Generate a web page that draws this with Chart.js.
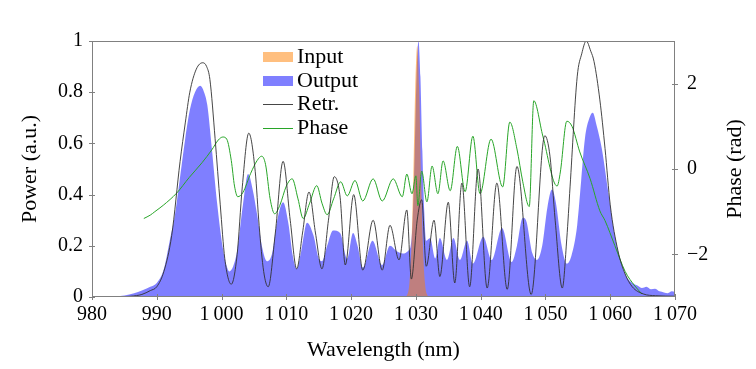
<!DOCTYPE html>
<html>
<head>
<meta charset="utf-8">
<title>Spectrum retrieval</title>
<script src="https://cdn.jsdelivr.net/npm/chart.js@4.4.1/dist/chart.umd.min.js"></script>
<style>
  html, body { margin: 0; padding: 0; background: #fff; }
  #wrap { width: 756px; height: 369px; }
</style>
</head>
<body>
<div id="wrap"><canvas id="spectrum"></canvas></div>
<script>
// [wavelength nm, value] pairs
const input = [
  [1028.2, 0], [1028.7, 0.011], [1029.0, 0.055], [1029.3, 0.19], [1029.6, 0.47], [1029.9, 0.82],
  [1030.2, 0.98], [1030.5, 0.82], [1030.8, 0.47], [1031.1, 0.19], [1031.4, 0.055], [1031.7, 0.011], [1032.2, 0]
];

const output = [
  [980, 0], [983, 0.002], [985, 0.006], [986.5, 0.015], [987.7, 0.025], [989, 0.04], [990, 0.055],
  [991.1, 0.11], [992, 0.22], [992.8, 0.32], [993.6, 0.47], [994.4, 0.62], [995.1, 0.73], [995.9, 0.8],
  [996.7, 0.825], [997.3, 0.8], [997.8, 0.75], [998.5, 0.58], [999.3, 0.37], [1000.2, 0.19], [1000.8, 0.12],
  [1001.2, 0.1], [1001.8, 0.12], [1002.4, 0.18], [1003.3, 0.36], [1004.1, 0.48], [1004.8, 0.42], [1005.5, 0.32],
  [1006.3, 0.19], [1007, 0.14], [1007.8, 0.17], [1008.6, 0.3], [1009.5, 0.37], [1010.3, 0.29], [1011, 0.16],
  [1011.6, 0.11], [1012.3, 0.18], [1013.2, 0.29], [1014.2, 0.24], [1015, 0.15], [1015.5, 0.14], [1016.3, 0.2],
  [1017.2, 0.26], [1018.3, 0.25], [1019.4, 0.15], [1020.3, 0.25], [1021, 0.2], [1021.8, 0.115], [1023.3, 0.22],
  [1024.8, 0.125], [1026, 0.2], [1027, 0.18], [1028, 0.17], [1028.8, 0.18], [1029.2, 0.2], [1029.5, 0.3],
  [1029.8, 0.55], [1030.1, 0.86], [1030.4, 1.0], [1030.7, 0.86], [1031, 0.57], [1031.3, 0.33], [1031.6, 0.22],
  [1032.2, 0.23], [1033, 0.15], [1033.7, 0.23], [1034.8, 0.145], [1035.8, 0.23], [1036.8, 0.145], [1037.9, 0.22],
  [1038.8, 0.13], [1040.4, 0.235], [1041.7, 0.145], [1043.3, 0.27], [1044.8, 0.137], [1045.6, 0.2], [1046.5, 0.31],
  [1047, 0.3], [1048, 0.17], [1048.7, 0.145], [1049.5, 0.2], [1050.3, 0.35], [1051, 0.42], [1051.6, 0.37],
  [1052.5, 0.2], [1053.3, 0.13], [1054, 0.16], [1054.9, 0.28], [1055.5, 0.45], [1056.1, 0.62], [1056.8, 0.7],
  [1057.3, 0.72], [1057.9, 0.67], [1058.7, 0.58], [1059.7, 0.41], [1060.7, 0.24], [1061.8, 0.125], [1062.5, 0.08],
  [1063.4, 0.055], [1064.2, 0.045], [1064.9, 0.035], [1065.6, 0.04], [1066.3, 0.03], [1066.9, 0.032], [1067.6, 0.022],
  [1068.3, 0.018], [1068.9, 0.015], [1069.5, 0.022], [1070, 0.02]
];

const retrieved = [
  [984, 0], [986, 0.003], [987.7, 0.01], [989, 0.025], [990, 0.04], [991.1, 0.1], [992.3, 0.24], [993.6, 0.53],
  [994.4, 0.68], [995.1, 0.8], [996.1, 0.89], [997.1, 0.915], [997.7, 0.9], [998.2, 0.85], [999, 0.62], [999.8, 0.36],
  [1000.5, 0.15], [1001.5, 0.05], [1002.4, 0.165], [1003.2, 0.43], [1004.2, 0.64], [1005.2, 0.49], [1005.8, 0.28],
  [1006.5, 0.1], [1007.2, 0.04], [1008.3, 0.25], [1009.5, 0.53], [1010.6, 0.3], [1011.6, 0.11], [1012.5, 0.25],
  [1013.5, 0.41], [1014.5, 0.25], [1015.5, 0.11], [1016.5, 0.3], [1017.4, 0.47], [1018.3, 0.39], [1019.1, 0.125],
  [1020.4, 0.4], [1021.8, 0.105], [1023.4, 0.3], [1024.8, 0.105], [1026, 0.28], [1027.4, 0.145], [1028.6, 0.34],
  [1029.3, 0.07], [1030.2, 0.3], [1030.9, 0.38], [1031.6, 0.12], [1032.8, 0.3], [1033.7, 0.08], [1035, 0.37],
  [1036, 0.055], [1037.1, 0.445], [1038.3, 0.04], [1039.6, 0.5], [1041, 0.035], [1042.5, 0.445], [1044.1, 0.03],
  [1045.6, 0.51], [1047.8, 0.01], [1049.9, 0.63], [1050.7, 0.55], [1051.5, 0.3], [1052.6, 0.035], [1053.3, 0.23],
  [1053.8, 0.43], [1054.9, 0.86], [1055.6, 0.95], [1056.3, 1.0], [1057, 0.96], [1057.5, 0.92], [1058.4, 0.77],
  [1059.2, 0.58], [1060, 0.36], [1061.2, 0.18], [1062.3, 0.09], [1063.4, 0.04], [1065.1, 0.012], [1067, 0.005], [1070, 0.003]
];

const phase = [
  [988, -1.16], [989, -1.08], [989.7, -1.0], [991, -0.85], [993.1, -0.56], [995, -0.2], [997, 0.15], [998.5, 0.45],
  [999.5, 0.68], [1000.2, 0.75], [1000.8, 0.7], [1001.5, 0.2], [1002, -0.4], [1002.5, -0.65], [1003.3, -0.55],
  [1004.5, -0.1], [1005.5, 0.2], [1006.2, 0.3], [1006.8, 0.1], [1007.5, -0.7], [1008.2, -1.05], [1009, -0.85],
  [1010, -0.4], [1010.9, -0.23], [1011.8, -0.7], [1012.6, -1.16], [1013.6, -0.8], [1014.7, -0.39], [1015.5, -0.8],
  [1016.3, -1.07], [1017.3, -0.7], [1018.4, -0.3], [1019.4, -0.63], [1020.6, -0.27], [1021.8, -0.75], [1023.4, -0.23],
  [1024.8, -0.75], [1026.5, -0.23], [1027.9, -0.65], [1028.6, -0.12], [1029.4, -0.58], [1030, -0.16], [1030.3, -0.86],
  [1030.9, -0.05], [1031.7, -0.77], [1032.5, 0.07], [1033.4, -0.58], [1034.2, 0.19], [1035.3, -0.51], [1036.4, 0.53],
  [1037.6, -0.53], [1038.8, 0.77], [1039.9, -0.58], [1041.6, 0.7], [1043.4, -0.42], [1044.5, 1.1], [1045.6, 0.47],
  [1046.5, -0.3], [1047.5, -0.88], [1048.2, 1.6], [1049.6, 0.77], [1051.8, -0.4], [1052.3, -0.07], [1053.3, 1.12],
  [1054.1, 1.0], [1055.3, 0.4], [1056.9, -0.23], [1058.4, -0.98], [1059.2, -1.21], [1060.7, -1.79], [1062.3, -2.4],
  [1063.8, -2.74], [1064.9, -2.93]
];

const phaseTicks = [-2, 0, 2];

const toXY = arr => arr.map(([x, y]) => ({ x, y }));
const thinSep = v => String(v).replace(/\B(?=(\d{3})+(?!\d))/g, '\u2009');

Chart.defaults.font.family = '"Liberation Serif", "Times New Roman", serif';
Chart.defaults.color = '#000';

// box, inward ticks, right title and legend
const decorations = {
  id: 'decorations',
  afterDatasetsDraw(chart) {
    const { ctx, chartArea: a, scales } = chart;
    ctx.save();
    ctx.strokeStyle = '#808080';
    ctx.lineWidth = 1;
    ctx.strokeRect(a.left + 0.5, a.top + 0.5, a.width - 1, a.height - 1);
    ctx.beginPath();
    scales.x.ticks.forEach(t => {
      const px = Math.round(scales.x.getPixelForValue(t.value)) + 0.5;
      ctx.moveTo(px, a.bottom - 3); ctx.lineTo(px, a.bottom + 3);
    });
    scales.y.ticks.forEach(t => {
      const py = Math.round(scales.y.getPixelForValue(t.value)) + 0.5;
      ctx.moveTo(a.left - 3, py); ctx.lineTo(a.left + 3, py);
    });
    scales.y2.ticks.forEach(t => {
      const py = Math.round(scales.y2.getPixelForValue(t.value)) + 0.5;
      ctx.moveTo(a.right - 3, py); ctx.lineTo(a.right + 3, py);
    });
    ctx.stroke();
    ctx.restore();
  },
  afterDraw(chart) {
    const { ctx, chartArea: a } = chart;
    ctx.save();
    ctx.fillStyle = '#000';
    ctx.font = '22px "Liberation Serif", serif';
    ctx.textAlign = 'center';
    ctx.textBaseline = 'middle';
    ctx.translate(735, (a.top + a.bottom) / 2);
    ctx.rotate(-Math.PI / 2);
    ctx.fillText('Phase (rad)', 0, 0);
    ctx.restore();

    ctx.save();
    ctx.font = '22px "Liberation Serif", serif';
    ctx.textBaseline = 'alphabetic';
    chart.data.datasets.forEach((ds, i) => {
      const base = 63 + i * 23.7;
      const mid = Math.round(base - 6);
      if (ds.fill) {
        ctx.fillStyle = ds.backgroundColor;
        ctx.fillRect(263, mid - 5, 30, 10);
      } else {
        ctx.strokeStyle = ds.borderColor;
        ctx.lineWidth = 1;
        ctx.beginPath();
        ctx.moveTo(263, mid + 0.5);
        ctx.lineTo(293, mid + 0.5);
        ctx.stroke();
      }
      ctx.fillStyle = '#000';
      ctx.fillText(ds.label, 297, base);
    });
    ctx.restore();
  }
};

new Chart(document.getElementById('spectrum'), {
  type: 'line',
  data: {
    datasets: [
      {
        label: 'Input', data: toXY(input), yAxisID: 'y', order: 1,
        fill: 'origin', backgroundColor: 'rgba(255,128,0,0.5)', borderWidth: 0,
        pointRadius: 0, cubicInterpolationMode: 'monotone'
      },
      {
        label: 'Output', data: toXY(output), yAxisID: 'y', order: 2,
        fill: 'origin', backgroundColor: 'rgba(0,0,255,0.5)', borderWidth: 0,
        pointRadius: 0, cubicInterpolationMode: 'monotone'
      },
      {
        label: 'Retr.', data: toXY(retrieved), yAxisID: 'y', order: 0,
        fill: false, borderColor: 'rgba(50,50,50,0.9)', borderWidth: 1,
        pointRadius: 0, cubicInterpolationMode: 'monotone'
      },
      {
        label: 'Phase', data: toXY(phase), yAxisID: 'y2', order: 0,
        fill: false, borderColor: 'rgb(40,165,40)', borderWidth: 1,
        pointRadius: 0, cubicInterpolationMode: 'monotone'
      }
    ]
  },
  options: {
    responsive: true,
    maintainAspectRatio: false,
    animation: false,
    devicePixelRatio: 1,
    layout: { padding: { top: 41, left: 0, right: 0, bottom: 0 } },
    plugins: { legend: { display: false }, tooltip: { enabled: false } },
    scales: {
      x: {
        type: 'linear', min: 980, max: 1070,
        ticks: { stepSize: 10, padding: 6, font: { size: 20 }, maxRotation: 0, autoSkip: false, callback: v => thinSep(v) },
        grid: { display: false, drawTicks: false },
        border: { display: false },
        title: { display: true, text: 'Wavelength (nm)', font: { size: 22 }, padding: { top: 0, bottom: 6 } },
        afterFit(s) { s.height = 72; }
      },
      y: {
        position: 'left', min: 0, max: 1,
        ticks: { stepSize: 0.2, padding: 9, font: { size: 20 }, callback: v => String(Math.round(v * 10) / 10) },
        grid: { display: false, drawTicks: false },
        border: { display: false },
        title: { display: true, text: 'Power (a.u.)', font: { size: 22 }, padding: { top: 17, bottom: 0 } },
        afterFit(s) { s.width = 92; }
      },
      y2: {
        position: 'right', min: -3, max: 3,
        afterBuildTicks(s) { s.ticks = phaseTicks.map(v => ({ value: v })); },
        ticks: { padding: 12, font: { size: 20 }, callback: v => (v < 0 ? '\u2212' + Math.abs(v) : String(v)) },
        grid: { display: false, drawTicks: false },
        border: { display: false },
        afterFit(s) { s.width = 81; }
      }
    }
  },
  plugins: [decorations]
});
</script>
</body>
</html>
